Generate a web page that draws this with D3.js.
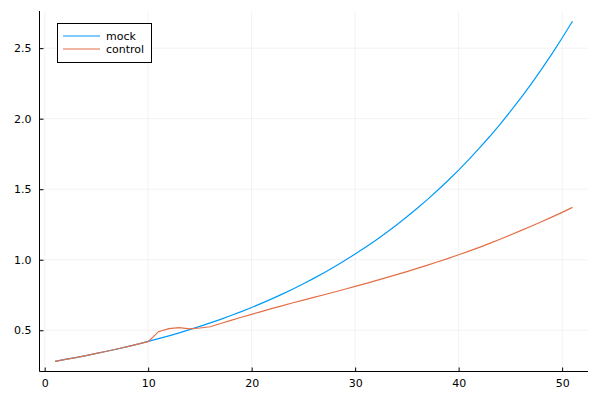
<!DOCTYPE html>
<html><head><meta charset="utf-8">
<script src="https://cdn.jsdelivr.net/npm/d3@7"></script>
<style>body{margin:0;background:#fff}svg{display:block}text{font-family:"DejaVu Sans",sans-serif}</style>
</head><body><svg id="c" width="600" height="400"></svg>
<script>
const xs = [1,2,3,4,5,6,7,8,9,10,11,12,13,14,15,16,17,18,19,20,21,22,23,24,25,26,27,28,29,30,31,32,33,34,35,36,37,38,39,40,41,42,43,44,45,46,47,48,49,50,51];
const mock = [0.280,0.293,0.3065,0.3207,0.3356,0.3511,0.3674,0.3844,0.4022,0.4208,0.4403,0.4607,0.4820,0.5043,0.5277,0.5521,0.5776,0.6044,0.6323,0.6616,0.6922,0.7243,0.7578,0.7929,0.8296,0.8680,0.9082,0.9502,0.9942,1.0402,1.0884,1.1388,1.1915,1.2467,1.3044,1.3648,1.4280,1.4941,1.5633,1.6357,1.7114,1.7906,1.8735,1.9603,2.0511,2.1460,2.2454,2.3494,2.4581,2.5719,2.6910];
const control = [0.280,0.293,0.3065,0.3207,0.3356,0.3511,0.3674,0.3844,0.4022,0.4190,0.4900,0.5120,0.5190,0.5100,0.5160,0.5250,0.548,0.570,0.592,0.613,0.634,0.655,0.675,0.695,0.714,0.733,0.752,0.771,0.791,0.811,0.831,0.852,0.873,0.894,0.916,0.939,0.962,0.986,1.010,1.035,1.061,1.088,1.116,1.145,1.175,1.206,1.237,1.269,1.302,1.336,1.371];
const seriesNames = ["mock","control"];
const colors = ["#009AFA","#E36F47"];
const xTicks = [0,10,20,30,40,50];
const yTicks = [0.5,1.0,1.5,2.0,2.5];

const svg = d3.select("#c");
const L = 39.5, R = 588, T = 11, B = 371.5;
const ymin = 0.28, ymax = 2.691, pad = (ymax - ymin) * 0.03;
const x = d3.scaleLinear().domain([1 - 1.5, 51 + 1.5]).range([L, R]);
const y = d3.scaleLinear().domain([ymin - pad, ymax + pad]).range([B, T]);

// grid
const g = svg.append("g");
g.selectAll(".gx").data(xTicks).join("line")
  .attr("x1", d => x(d)).attr("x2", d => x(d)).attr("y1", T).attr("y2", B)
  .attr("stroke", "#000").attr("stroke-opacity", 0.1).attr("stroke-width", 0.5);
g.selectAll(".gy").data(yTicks).join("line")
  .attr("x1", L).attr("x2", R).attr("y1", d => y(d)).attr("y2", d => y(d))
  .attr("stroke", "#000").attr("stroke-opacity", 0.1).attr("stroke-width", 0.5);

// axes
const xAxis = d3.axisBottom(x).tickValues(xTicks).tickFormat(d3.format("d")).tickSizeInner(-4).tickSizeOuter(0).tickPadding(8);
const yAxis = d3.axisLeft(y).tickValues(yTicks).tickFormat(d3.format(".1f")).tickSizeInner(-4).tickSizeOuter(0).tickPadding(8);
const gx = svg.append("g").attr("transform", `translate(0,${B})`).call(xAxis);
const gy = svg.append("g").attr("transform", `translate(${L},0)`).call(yAxis);
[gx, gy].forEach(a => {
  a.select(".domain").attr("stroke", "#000");
  a.selectAll(".tick line").attr("stroke", "#000");
  a.selectAll(".tick text").attr("font-size", 11).attr("fill", "#000").attr("font-family", "DejaVu Sans, sans-serif");
});
gx.select(".domain").attr("d", `M${L},0H${R}`);
gy.select(".domain").attr("d", `M0,${B}V${T}`);

// lines
const line = d3.line().x((d, i) => x(xs[i])).y(d => y(d));
[mock, control].forEach((s, k) => {
  svg.append("path").datum(s).attr("d", line).attr("fill", "none")
    .attr("stroke", colors[k]).attr("stroke-width", 1.2);
});

// legend
const lg = svg.append("g");
lg.append("rect").attr("x", 57.5).attr("y", 23.5).attr("width", 94).attr("height", 39)
  .attr("fill", "#fff").attr("stroke", "#000").attr("stroke-width", 1);
seriesNames.forEach((n, k) => {
  const yy = 36 + k * 13;
  lg.append("line").attr("x1", 63).attr("x2", 100).attr("y1", yy).attr("y2", yy)
    .attr("stroke", colors[k]).attr("stroke-width", 1.2);
  lg.append("text").attr("x", 106).attr("y", yy + 4).attr("font-size", 11).attr("fill", "#000").text(n);
});
</script></body></html>
